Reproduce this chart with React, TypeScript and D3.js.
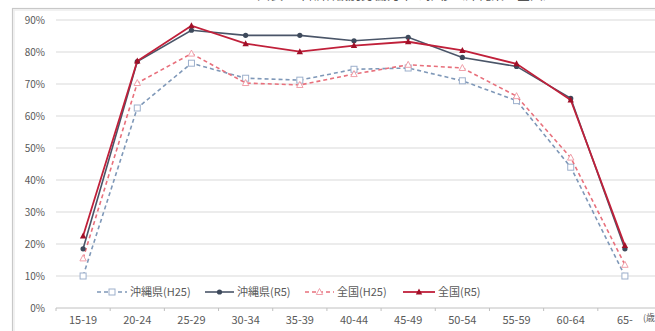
import React from "react";
import * as d3 from "d3";

const categories = ["15-19", "20-24", "25-29", "30-34", "35-39", "40-44", "45-49", "50-54", "55-59", "60-64", "65-"];
const okinawaH25 = [10, 62.5, 76.5, 71.8, 71.2, 74.6, 75, 71, 64.8, 44, 10];
const okinawaR5 = [18.5, 77, 86.8, 85.2, 85.2, 83.5, 84.6, 78.3, 75.5, 65.5, 18.5];
const zenkokuH25 = [15.5, 70.3, 79.5, 70.3, 69.7, 73.1, 76, 75, 66.2, 47, 13.5];
const zenkokuR5 = [22.5, 77.2, 88.2, 82.6, 80.1, 82, 83.2, 80.5, 76.3, 65, 19.5];
const yTicks = [0, 10, 20, 30, 40, 50, 60, 70, 80, 90];
const seriesNames = ["沖縄県(H25)", "沖縄県(R5)", "全国(H25)", "全国(R5)"];

const W = 655;
const H = 331;
const FONT = "'Noto Sans CJK JP', 'DejaVu Sans', sans-serif";

type Marker = "square" | "circle" | "triangleOpen" | "triangle";
interface Series { name: string; values: number[]; color: string; markerColor: string; dash?: string; width: number; marker: Marker; }

const series: Series[] = [
  { name: seriesNames[0], values: okinawaH25, color: "#7f98b8", markerColor: "#9db0cc", dash: "4,3", width: 1.6, marker: "square" },
  { name: seriesNames[2], values: zenkokuH25, color: "#e8707c", markerColor: "#f0a0aa", dash: "4,3", width: 1.6, marker: "triangleOpen" },
  { name: seriesNames[1], values: okinawaR5, color: "#4a5568", markerColor: "#3e4a5c", width: 1.6, marker: "circle" },
  { name: seriesNames[3], values: zenkokuR5, color: "#c0203a", markerColor: "#a01028", width: 1.8, marker: "triangle" },
];

function MarkerShape({ type, x, y, color }: { type: Marker; x: number; y: number; color: string }) {
  if (type === "square") return <rect x={x - 3} y={y - 3} width={6} height={6} fill="#fff" stroke={color} strokeWidth={1} />;
  if (type === "circle") return <circle cx={x} cy={y} r={2.6} fill={color} />;
  const p = `${x},${y - 3.5} ${x + 3.2},${y + 2.5} ${x - 3.2},${y + 2.5}`;
  if (type === "triangleOpen") return <polygon points={p} fill="#fff" stroke={color} strokeWidth={1} />;
  return <polygon points={p} fill={color} />;
}

export default function App() {
  const x = d3.scaleBand<string>().domain(categories).range([56, 652]);
  const cx = (c: string) => (x(c) as number) + x.bandwidth() / 2;
  const y = d3.scaleLinear().domain([0, 90]).range([308, 20]);
  const line = d3.line<number>().x((_, i) => cx(categories[i])).y((v) => y(v));

  const legendItems = [
    { s: series[0], x0: 97, x1: 127, tx: 130 },
    { s: series[2], x0: 205, x1: 234, tx: 237 },
    { s: series[1], x0: 305, x1: 334, tx: 337 },
    { s: series[3], x0: 403, x1: 435, tx: 438 },
  ];

  return (
    <svg width={W} height={H} style={{ position: "absolute", left: 0, top: 0, background: "#fff" }}>
      <rect x={0} y={0} width={W} height={H} fill="#fff" />
      <text x={257} y={-1} fontSize={13} fill="#555" fontFamily={FONT}>図表　年齢階級別労働力率の推移（沖縄県・全国）</text>
      <rect x={12.5} y={8.5} width={700} height={400} fill="#fff" stroke="#c8c8c8" strokeWidth={1.2} />
      <line x1={13} x2={W} y1={10} y2={10} stroke="#ececec" strokeWidth={1.5} />
      <line x1={14} x2={14} y1={10} y2={H} stroke="#ececec" strokeWidth={1.5} />
      {yTicks.map((t) => (
        <g key={t}>
          <line x1={56} x2={W} y1={y(t)} y2={y(t)} stroke={t === 0 ? "#c0c0c0" : "#d9d9d9"} strokeWidth={1} />
          <text x={45} y={y(t)} dy="0.35em" textAnchor="end" fontSize={10} fill="#595959" fontFamily={FONT}>{t}%</text>
        </g>
      ))}
      {categories.map((c, i) => (
        <line key={"tk" + i} x1={x(c) as number} x2={x(c) as number} y1={308} y2={311} stroke="#c0c0c0" />
      ))}
      {categories.map((c) => (
        <text key={c} x={cx(c)} y={320} dy="0.35em" textAnchor="middle" fontSize={11} fill="#595959" fontFamily={FONT}>{c}</text>
      ))}
      <text x={643} y={318} dy="0.35em" fontSize={9} fill="#595959" fontFamily={FONT}>(歳)</text>
      {series.map((s) => (
        <g key={s.name}>
          <path d={line(s.values) || ""} fill="none" stroke={s.color} strokeWidth={s.width} strokeDasharray={s.dash} />
          {s.values.map((v, i) => (
            <MarkerShape key={i} type={s.marker} x={cx(categories[i])} y={y(v)} color={s.markerColor} />
          ))}
        </g>
      ))}
      {legendItems.map(({ s, x0, x1, tx }) => (
        <g key={"lg" + s.name}>
          <line x1={x0} x2={x1} y1={292} y2={292} stroke={s.color} strokeWidth={s.width} strokeDasharray={s.dash} />
          <MarkerShape type={s.marker} x={(x0 + x1) / 2} y={292} color={s.markerColor} />
          <text x={tx} y={292} dy="0.35em" fontSize={11} fill="#595959" fontFamily={FONT}>{s.name}</text>
        </g>
      ))}
    </svg>
  );
}
